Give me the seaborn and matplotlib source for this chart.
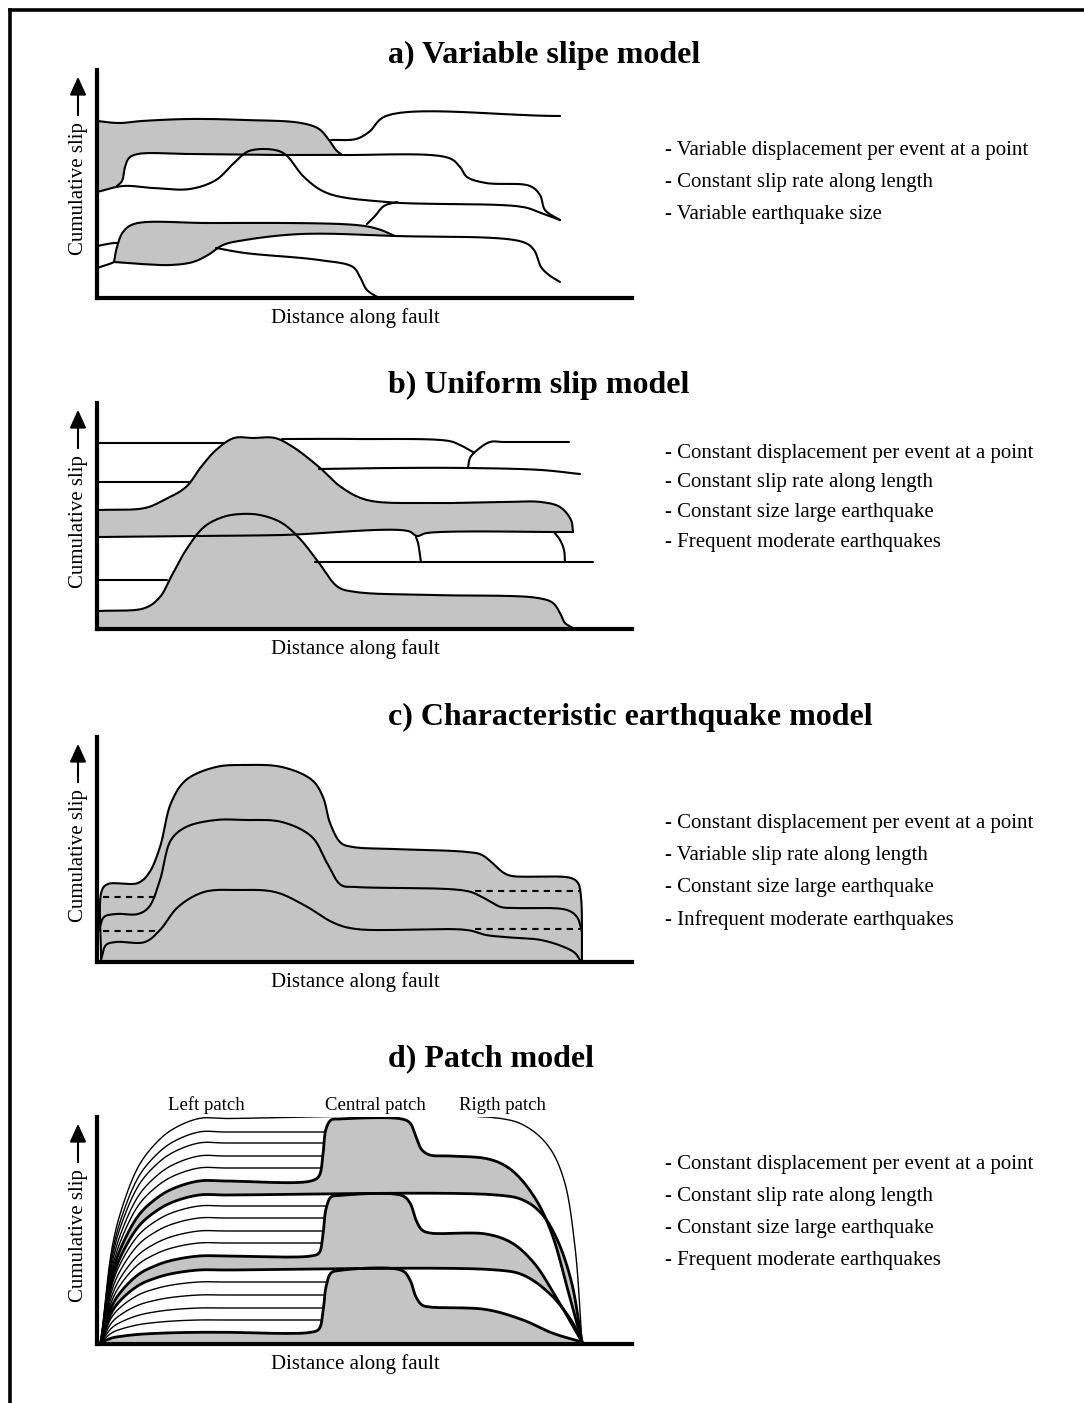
import numpy as np
import matplotlib
matplotlib.use("Agg")
import matplotlib.pyplot as plt
import seaborn as sns
from matplotlib.lines import Line2D

sns.set_style("white")
plt.rcParams["font.family"] = ["Liberation Serif", "DejaVu Serif"]
plt.rcParams["text.color"] = "black"

W, H = 1084, 1403
GRAY = "#c4c4c4"

# ---------------- a) variable slip model (distance, slip) ----------------
a_top_x = [0, 22, 45, 93, 148, 204, 222, 232, 239, 245]
a_top_y = [177, 175, 177, 179, 178, 175, 169, 158, 148, 143]
a_branch_x = [234, 259, 272, 289, 463]
a_branch_y = [158, 159, 166, 182, 182]
a_mid_x = [20, 25, 28, 32, 41, 93, 185, 245, 352, 363, 370, 389, 433, 443, 448, 463]
a_mid_y = [112, 117, 131, 140, 144, 144, 143, 143, 140, 131, 121, 115, 112, 103, 88, 78]
a_bump_x = [0, 26, 56, 93, 119, 137, 152, 178, 189, 207, 230, 289, 426, 444, 463]
a_bump_y = [106, 112, 110, 109, 118, 135, 147, 148, 143, 121, 105, 96, 91, 85, 78]
a_low_top_x = [17, 20, 26, 37, 111, 259, 281, 298]
a_low_top_y = [36, 51, 66, 74, 75, 73, 69, 62]
a_low_bot_x = [17, 44, 74, 96, 111, 126, 148, 204, 298, 426, 437, 444, 452, 463]
a_low_bot_y = [36, 34, 33, 36, 43, 53, 58, 64, 62, 56, 48, 31, 23, 16]
a_stub1_x = [0, 17, 21]
a_stub1_y = [52, 55, 55]
a_stub2_x = [0, 15, 17]
a_stub2_y = [30, 35, 36]
a_join_x = [270, 278, 287, 300]
a_join_y = [74, 82, 92, 96]
a_drop_x = [119, 148, 222, 256, 263, 270, 282]
a_drop_y = [50, 45, 38, 31, 21, 8, 0]

# ---------------- b) uniform slip model ----------------
b_top_left_x = [2, 128]
b_top_left_y = [186, 186]
b_top_right_x = [185, 259, 352, 363, 376]
b_top_right_y = [190, 190, 188, 184, 177]
b_fork_x = [371, 373, 378, 393, 407, 472]
b_fork_y = [161, 171, 177, 187, 187, 187]
b_line2_x = [222, 296, 370, 444, 483]
b_line2_y = [160, 161, 161, 159, 155]
b_line3_x = [2, 93]
b_line3_y = [147, 147]
b_line4_x = [2, 70]
b_line4_y = [49, 49]
b_line5_x = [218, 496]
b_line5_y = [67, 67]
b_conn1_x = [319, 321, 324]
b_conn1_y = [92, 86, 67]
b_conn2_x = [457, 463, 467, 468]
b_conn2_y = [97, 89, 79, 67]
b_up_top_x = [2, 48, 67, 89, 104, 119, 137, 156, 178, 196, 222, 244, 270, 333, 407, 444, 463, 474, 476]
b_up_top_y = [119, 121, 129, 142, 162, 179, 191, 191, 191, 182, 162, 142, 129, 126, 127, 127, 122, 109, 97]
b_up_bot_x = [2, 100, 185, 311, 320, 330, 459, 476]
b_up_bot_y = [92, 93, 94, 98, 93, 96, 97, 97]
b_low_x = [2, 48, 63, 74, 89, 107, 126, 144, 163, 185, 204, 222, 241, 259, 333, 441, 456, 463, 468, 476]
b_low_y = [18, 21, 32, 52, 79, 102, 112, 115, 114, 106, 89, 66, 42, 37, 34, 31, 26, 16, 6, 1]

# ---------------- c) characteristic earthquake model ----------------
c_outer_x = [4, 5, 11, 41, 52, 63, 74, 89, 119, 148, 185, 215, 226, 233, 244, 256, 296, 370, 385, 407, 415, 474, 481, 484, 485]
c_outer_y = [2, 72, 78, 79, 89, 115, 159, 182, 195, 197, 195, 182, 165, 139, 119, 115, 113, 110, 107, 89, 86, 84, 79, 65, 2]
c_mid_x = [2, 7, 19, 41, 52, 63, 74, 89, 119, 148, 185, 215, 230, 244, 259, 370, 385, 404, 418, 470, 480, 485]
c_mid_y = [32, 45, 48, 48, 55, 82, 122, 135, 142, 142, 140, 125, 99, 77, 75, 71, 65, 55, 54, 52, 45, 30]
c_low_x = [4, 9, 19, 48, 63, 81, 107, 141, 178, 207, 237, 259, 370, 389, 407, 444, 467, 478, 483]
c_low_y = [2, 17, 20, 20, 32, 55, 70, 72, 70, 57, 39, 33, 32, 27, 25, 22, 15, 9, 2]
c_dash_upper_y = [65, 71]
c_dash_lower_y = [31, 33]
c_dash_left_x = [6, 60]
c_dash_right_x = [378, 483]

# ---------------- d) patch model ----------------
ramp_dx = [0, 11, 21, 38, 55, 71, 98, 125]
ramp_frac = [0, 0.42, 0.6, 0.79, 0.89, 0.95, 1.0, 1.0]
d_origin = (4, 2)
d_thin_levels = [212, 201, 188, 176, 138, 126, 113, 101, 62, 49, 36, 24]
d_thin_end = 230
d_env_level = 225.5
d_env_tail_x = [404, 430, 452, 467, 478, 485]
d_env_tail_y = [225.5, 217, 197, 164, 97, 2]
d1_top_level = 163
d1_top_tail_x = [214, 222, 226, 229, 234, 242, 305, 313, 319, 325, 333, 352, 389, 407, 422, 441, 456, 470, 485]
d1_top_tail_y = [163, 168, 190, 215, 224, 225, 225, 221, 207, 194, 189, 188, 185.5, 179, 167, 141, 107, 57, 2]
d1_bot_level = 149
d1_bot_tail_x = [400, 426, 444, 459, 474, 485]
d1_bot_tail_y = [149, 144, 131, 107, 64, 2]
d2_top_level = 88
d2_top_tail_x = [214, 222, 226, 229, 234, 242, 305, 313, 319, 325, 333, 389, 415, 437, 459, 485]
d2_top_tail_y = [88, 91, 110, 135, 147, 148.5, 148.5, 141, 124, 114, 111, 110, 101, 81, 47, 2]
d2_bot_level = 74
d2_bot_tail_x = [400, 426, 452, 474, 485]
d2_bot_tail_y = [74, 69, 51, 24, 2]
d3_top_level = 11.7
d3_top_tail_x = [214, 222, 226, 229, 234, 242, 305, 313, 319, 325, 333, 389, 426, 456, 485]
d3_top_tail_y = [11.7, 15, 32, 57, 71, 73.5, 73.5, 64, 47, 39, 37, 34.5, 24, 10.7, 2]
d_patch_labels = ["Left patch", "Central patch", "Rigth patch"]
d_patch_label_x = [109, 278, 405]

titles = ["a) Variable slipe model", "b) Uniform slip model",
          "c) Characteristic earthquake model", "d) Patch model"]
bullets = [
    ["- Variable displacement per event at a point",
     "- Constant slip rate along length",
     "- Variable earthquake size"],
    ["- Constant displacement per event at a point",
     "- Constant slip rate along length",
     "- Constant size large earthquake",
     "- Frequent moderate earthquakes"],
    ["- Constant displacement per event at a point",
     "- Variable slip rate along length",
     "- Constant size large earthquake",
     "- Infrequent moderate earthquakes"],
    ["- Constant displacement per event at a point",
     "- Constant slip rate along length",
     "- Constant size large earthquake",
     "- Frequent moderate earthquakes"],
]
x_label = "Distance along fault"
y_label = "Cumulative slip"


def smooth(xs, ys, n=14):
    """Centripetal Catmull-Rom curve through the given knots."""
    P = np.column_stack([xs, ys]).astype(float)
    if len(P) < 3:
        return P[:, 0], P[:, 1]
    P = np.vstack([2 * P[0] - P[1], P, 2 * P[-1] - P[-2]])
    segs = []
    for i in range(len(P) - 3):
        p0, p1, p2, p3 = P[i:i + 4]
        t0 = 0.0
        t1 = t0 + np.hypot(*(p1 - p0)) ** 0.5
        t2 = t1 + np.hypot(*(p2 - p1)) ** 0.5
        t3 = t2 + np.hypot(*(p3 - p2)) ** 0.5
        t = np.linspace(t1, t2, n, endpoint=False)[:, None]
        A1 = (t1 - t) / (t1 - t0) * p0 + (t - t0) / (t1 - t0) * p1
        A2 = (t2 - t) / (t2 - t1) * p1 + (t - t1) / (t2 - t1) * p2
        A3 = (t3 - t) / (t3 - t2) * p2 + (t - t2) / (t3 - t2) * p3
        B1 = (t2 - t) / (t2 - t0) * A1 + (t - t0) / (t2 - t0) * A2
        B2 = (t3 - t) / (t3 - t1) * A2 + (t - t1) / (t3 - t1) * A3
        segs.append((t2 - t) / (t2 - t1) * B1 + (t - t1) / (t2 - t1) * B2)
    segs.append(P[-2][None])
    S = np.vstack(segs)
    return S[:, 0], S[:, 1]


def curve(ax, xs, ys, lw=1.5, z=3, ls="-"):
    sx, sy = smooth(xs, ys)
    sns.lineplot(x=sx, y=sy, sort=False, estimator=None, color="black",
                 lw=lw, ax=ax, zorder=z, linestyle=ls)


def patch(ax, pts_x, pts_y, z=2):
    ax.fill(pts_x, pts_y, color=GRAY, lw=0, zorder=z)


def ramp(level, tail_x=None, tail_y=None):
    ox, oy = d_origin
    xs = [ox + d for d in ramp_dx]
    ys = [oy + (level - oy) * f for f in ramp_frac]
    if tail_x is not None:
        xs += list(tail_x)
        ys += list(tail_y)
    return xs, ys


fig = plt.figure(figsize=(W / 100, H / 100), dpi=100)


def fx(px):
    return px / W


def fy(py):
    return 1 - py / H


def make_axes(top, bottom):
    return fig.add_axes([fx(97), fy(bottom), (632 - 97) / W, (bottom - top) / H])


def finish(ax, top, bottom):
    ax.set_xlim(0, 535)
    ax.set_ylim(0, bottom - top)
    ax.set_xticks([])
    ax.set_yticks([])
    ax.set_xlabel("")
    ax.set_ylabel("")
    for s in ["top", "right"]:
        ax.spines[s].set_visible(False)
    for s in ["left", "bottom"]:
        ax.spines[s].set_linewidth(3)
        ax.spines[s].set_color("black")
        ax.spines[s].set_zorder(5)
    ax.patch.set_alpha(0)
    # y-axis caption with arrow
    ax.annotate("", xy=(fx(78), fy(top + 4)), xytext=(fx(78), fy(top + 48)),
                xycoords="figure fraction", textcoords="figure fraction",
                arrowprops=dict(arrowstyle="-|>,head_length=0.55,head_width=0.25",
                                color="black", lw=1.5, mutation_scale=20))
    fig.text(fx(78), fy(top + 52), y_label, rotation=90, ha="center", va="top",
             fontsize=15)
    fig.text(fx(355), fy(bottom + 20), x_label, ha="center", va="center", fontsize=15)


panels = [(70, 298), (403, 629), (737, 962), (1117, 1344)]
title_base = [63, 393, 725, 1066]
bullet_rows = [[151, 183, 215], [453, 483, 513, 543], [824, 856, 888, 920],
               [1165, 1197, 1229, 1261]]

# ---- panel a ----
top, bottom = panels[0]
ax = make_axes(top, bottom)
sx1, sy1 = smooth(a_top_x, a_top_y)
sx2, sy2 = smooth(a_mid_x[:8], a_mid_y[:8])
patch(ax, np.r_[0, sx1, sx2[::-1], a_bump_x[0]], np.r_[a_bump_y[0], sy1, sy2[::-1], a_bump_y[0]])
sx3, sy3 = smooth(a_low_top_x, a_low_top_y)
sx4, sy4 = smooth(a_low_bot_x[:9], a_low_bot_y[:9])
patch(ax, np.r_[sx3, sx4[::-1]], np.r_[sy3, sy4[::-1]])
for xs, ys in [(a_top_x, a_top_y), (a_branch_x, a_branch_y), (a_mid_x, a_mid_y),
               (a_bump_x, a_bump_y), (a_low_top_x, a_low_top_y),
               (a_low_bot_x, a_low_bot_y), (a_stub1_x, a_stub1_y),
               (a_stub2_x, a_stub2_y), (a_join_x, a_join_y), (a_drop_x, a_drop_y)]:
    curve(ax, xs, ys)
finish(ax, top, bottom)

# ---- panel b ----
top, bottom = panels[1]
ax = make_axes(top, bottom)
for xs, ys in [(b_top_left_x, b_top_left_y), (b_line3_x, b_line3_y),
               (b_line4_x, b_line4_y)]:
    curve(ax, xs, ys, z=1)
ux, uy = smooth(b_up_top_x, b_up_top_y)
lx, ly = smooth(b_up_bot_x, b_up_bot_y)
patch(ax, np.r_[ux, lx[::-1]], np.r_[uy, ly[::-1]])
gx, gy = smooth(b_low_x, b_low_y)
patch(ax, np.r_[b_low_x[0], gx, b_low_x[-1]], np.r_[0, gy, 0])
for xs, ys in [(b_top_right_x, b_top_right_y), (b_fork_x, b_fork_y),
               (b_line2_x, b_line2_y), (b_line5_x, b_line5_y),
               (b_conn1_x, b_conn1_y), (b_conn2_x, b_conn2_y),
               (b_up_top_x, b_up_top_y), (b_up_bot_x, b_up_bot_y),
               (b_low_x, b_low_y)]:
    curve(ax, xs, ys)
finish(ax, top, bottom)

# ---- panel c ----
top, bottom = panels[2]
ax = make_axes(top, bottom)
ox_, oy_ = smooth(c_outer_x, c_outer_y)
patch(ax, np.r_[c_outer_x[0], ox_, c_outer_x[-1]], np.r_[0, oy_, 0])
for xs, ys in [(c_outer_x, c_outer_y), (c_mid_x, c_mid_y), (c_low_x, c_low_y)]:
    curve(ax, xs, ys)
for dy in (c_dash_upper_y, c_dash_lower_y):
    curve(ax, c_dash_left_x, [dy[0]] * 2, ls=(0, (3, 2.5)))
    curve(ax, c_dash_right_x, [dy[1]] * 2, ls=(0, (3, 2.5)))
finish(ax, top, bottom)

# ---- panel d ----
top, bottom = panels[3]
ax = make_axes(top, bottom)
for lev in d_thin_levels:
    xs, ys = ramp(lev, [d_thin_end], [lev])
    curve(ax, xs, ys, lw=1.0, z=1)
shape_edges = []
for (lt, tx, ty), (lb, bx, by) in [
        ((d1_top_level, d1_top_tail_x, d1_top_tail_y), (d1_bot_level, d1_bot_tail_x, d1_bot_tail_y)),
        ((d2_top_level, d2_top_tail_x, d2_top_tail_y), (d2_bot_level, d2_bot_tail_x, d2_bot_tail_y))]:
    tx_, ty_ = smooth(*ramp(lt, tx, ty))
    bx_, by_ = smooth(*ramp(lb, bx, by))
    patch(ax, np.r_[tx_, bx_[::-1]], np.r_[ty_, by_[::-1]])
    shape_edges += [ramp(lt, tx, ty), ramp(lb, bx, by)]
tx_, ty_ = smooth(*ramp(d3_top_level, d3_top_tail_x, d3_top_tail_y))
patch(ax, np.r_[tx_, tx_[-1], tx_[0]], np.r_[ty_, 0, 0])
shape_edges.append(ramp(d3_top_level, d3_top_tail_x, d3_top_tail_y))
for xs, ys in shape_edges:
    curve(ax, xs, ys, lw=2.0, z=3)
curve(ax, *ramp(d_env_level, d_env_tail_x, d_env_tail_y), lw=1.0, z=3)
for lab, lx_ in zip(d_patch_labels, d_patch_label_x):
    ax.text(lx_, bottom - 1105, lab, ha="center", va="center", fontsize=13.5)
finish(ax, top, bottom)

# titles and bullet notes
for t, yb in zip(titles, title_base):
    fig.text(fx(388), fy(yb), t, ha="left", va="baseline", fontsize=23,
             fontweight="bold")
for rows, ys in zip(bullets, bullet_rows):
    for line, y in zip(rows, ys):
        fig.text(fx(665), fy(y), line, ha="left", va="center", fontsize=15)

# frame on the left and top edges
fig.add_artist(Line2D([fx(9.5), fx(9.5)], [0, fy(9.5)], color="black", lw=2.6,
                      transform=fig.transFigure, solid_capstyle="projecting"))
fig.add_artist(Line2D([fx(9.5), 1], [fy(9.5), fy(9.5)], color="black", lw=2.6,
                      transform=fig.transFigure, solid_capstyle="projecting"))

fig.savefig("out.png", dpi=100, facecolor="white")
